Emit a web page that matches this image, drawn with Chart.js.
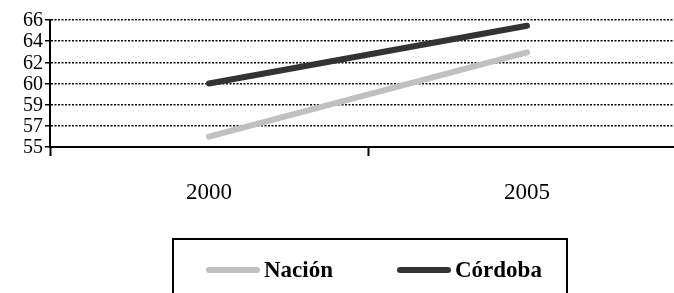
<!DOCTYPE html>
<html>
<head>
<meta charset="utf-8">
<script src="https://cdn.jsdelivr.net/npm/chart.js@4"></script>
<style>
  body { margin: 0; background: #fff; overflow: hidden; }
  #wrap { position: relative; width: 700px; height: 293px; }
</style>
</head>
<body>
<div id="wrap"><canvas id="chart"></canvas></div>
<script>
const years = ['2000', '2005'];
const nacion = [55.9, 63.2];
const cordoba = [60.5, 65.5];
const yTickLabels = ['55', '57', '59', '60', '62', '64', '66'];
const yMin = 55;
const yMax = 66;

const seriesNames = ['Nación', 'Córdoba'];
const seriesColors = ['#c0c0c0', '#333333'];

// text is drawn straight on the canvas, placed from the chart's own scales
const serifText = {
    id: 'serifText',
    afterDraw(chart) {
        const c = chart.ctx;
        const xs = chart.scales.x;
        const ys = chart.scales.y;
        c.save();
        c.fillStyle = '#000';

        c.font = '20px "Liberation Serif"';
        c.textAlign = 'right';
        c.textBaseline = 'middle';
        ys.ticks.forEach((t, i) => {
            c.fillText(yTickLabels[i], ys.right - 7, ys.getPixelForValue(t.value) + 1);
        });

        c.font = '23px "Liberation Serif"';
        c.textAlign = 'center';
        c.textBaseline = 'middle';
        years.forEach((y, i) => {
            c.fillText(y, xs.getPixelForValue(i), chart.chartArea.bottom + 46);
        });

        // legend box
        c.strokeStyle = '#000';
        c.lineWidth = 2;
        c.strokeRect(173, 239, 394, 80);
        const itemX = [206, 397];
        c.font = 'bold 23px "Liberation Serif"';
        c.textAlign = 'left';
        seriesNames.forEach((name, i) => {
            c.strokeStyle = seriesColors[i];
            c.lineWidth = 6;
            c.lineCap = 'round';
            c.beginPath();
            c.moveTo(itemX[i] + 3, 270);
            c.lineTo(itemX[i] + 51, 270);
            c.stroke();
            c.fillText(name, itemX[i] + 58, 271);
        });
        c.restore();
    }
};

const ctx = document.getElementById('chart').getContext('2d');
const chart = new Chart(ctx, {
    type: 'line',
    data: {
        labels: years,
        datasets: [
            { label: seriesNames[0], data: nacion, borderColor: seriesColors[0] },
            { label: seriesNames[1], data: cordoba, borderColor: seriesColors[1] }
        ]
    },
    options: {
        responsive: true,
        maintainAspectRatio: false,
        animation: false,
        layout: { padding: { top: 20, right: 14, left: 0, bottom: 0 } },
        elements: {
            line: { borderWidth: 6, borderCapStyle: 'round', tension: 0 },
            point: { radius: 0 }
        },
        plugins: { legend: { display: false }, tooltip: { enabled: false } },
        scales: {
            x: {
                offset: true,
                grid: {
                    offset: true,
                    drawOnChartArea: false,
                    tickLength: 9,
                    tickColor: '#000',
                    tickWidth: 2
                },
                border: { color: '#000', width: 2 },
                ticks: { display: false },
                afterFit: (scale) => { scale.height = 146; }
            },
            y: {
                min: yMin,
                max: yMax,
                afterBuildTicks: (scale) => {
                    const step = (yMax - yMin) / (yTickLabels.length - 1);
                    scale.ticks = yTickLabels.map((t, i) => ({ value: yMin + i * step }));
                },
                grid: {
                    color: '#000',
                    lineWidth: 1.5,
                    tickLength: 5,
                    tickColor: '#000',
                    tickWidth: 1.5,
                    tickBorderDash: []
                },
                border: { color: '#000', width: 2, dash: [2, 1.5] },
                ticks: { display: false },
                afterFit: (scale) => { scale.width = 50; }
            }
        }
    },
    plugins: [serifText]
});
</script>
</body>
</html>
